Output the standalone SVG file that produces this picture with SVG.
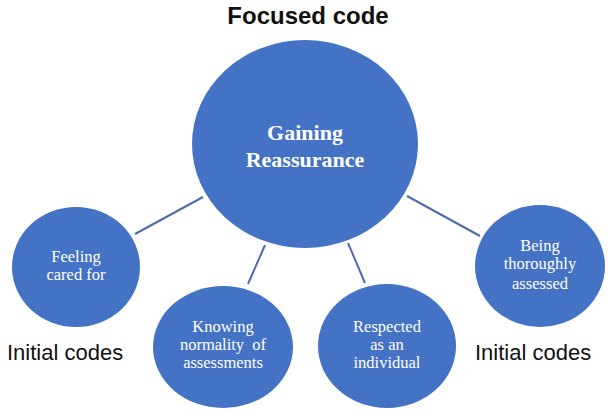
<svg xmlns="http://www.w3.org/2000/svg" width="612" height="416" viewBox="0 0 612 416">
<style>
.node{fill:#4472C4;}
.lbl{font-family:"Liberation Serif","Times New Roman",serif;fill:#FFFFFF;text-anchor:middle;font-size:16.5px;white-space:pre;}
.main{font-weight:bold;font-size:22px;}
.cap{font-family:"Liberation Sans",Arial,sans-serif;fill:#111111;}
.conn line{stroke:#4F6BAE;stroke-width:2;}
</style>
<rect width="612" height="416" fill="#FFFFFF"/>
<text class="cap" x="308" y="24" font-size="24" font-weight="bold" text-anchor="middle">Focused code</text>
<g id="connectors" class="conn">
<line x1="203" y1="197" x2="135" y2="234"/>
<line x1="265" y1="245" x2="248" y2="284"/>
<line x1="348" y1="243" x2="365" y2="283"/>
<line x1="407" y1="196" x2="480" y2="236"/>
</g>
<g id="gaining-reassurance">
<ellipse class="node" cx="305" cy="144" rx="113" ry="104"/>
<text class="lbl main" x="305" y="140">Gaining</text>
<text class="lbl main" x="305" y="167">Reassurance</text>
</g>
<g id="feeling-cared-for">
<ellipse class="node" cx="76" cy="267" rx="64" ry="60"/>
<text class="lbl" x="76" y="262">Feeling</text>
<text class="lbl" x="76" y="280">cared for</text>
</g>
<g id="knowing-normality">
<ellipse class="node" cx="223" cy="347" rx="70" ry="61"/>
<text class="lbl" x="223" y="332">Knowing</text>
<text class="lbl" x="223" y="350">normality  of</text>
<text class="lbl" x="223" y="368">assessments</text>
</g>
<g id="respected-individual">
<ellipse class="node" cx="387" cy="346" rx="69" ry="62"/>
<text class="lbl" x="387" y="332">Respected</text>
<text class="lbl" x="387" y="350">as an</text>
<text class="lbl" x="387" y="368">individual</text>
</g>
<g id="being-assessed">
<ellipse class="node" cx="540" cy="266" rx="65" ry="61"/>
<text class="lbl" x="540" y="251">Being</text>
<text class="lbl" x="540" y="269">thoroughly</text>
<text class="lbl" x="540" y="289">assessed</text>
</g>
<text class="cap" x="7" y="360" font-size="22">Initial codes</text>
<text class="cap" x="475" y="360" font-size="22">Initial codes</text>
</svg>
